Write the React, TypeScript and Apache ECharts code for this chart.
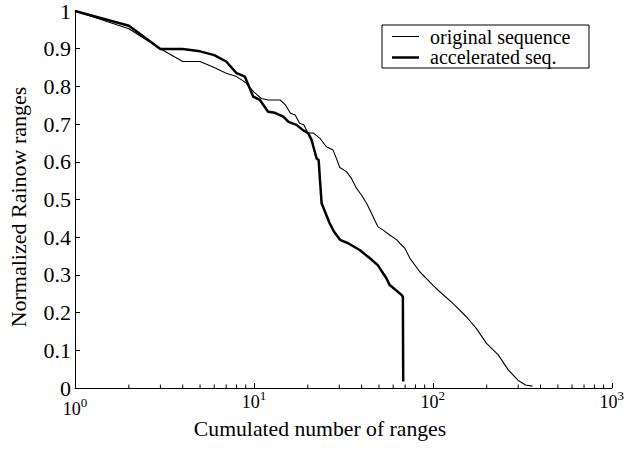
import React, { useEffect, useRef } from "react";
import * as echarts from "echarts";

const originalX = [1, 2, 3, 4, 5, 6, 7, 8, 9, 10, 11, 12, 14, 15, 16, 17, 18, 19, 20, 21.5, 23.4, 25.4, 27.7, 28.9, 30.2, 32.9, 35.1, 37.4, 39.9, 42.6, 44.5, 49.3, 53, 57.4, 62.9, 65.3, 69.7, 74.5, 84.3, 100, 109, 129, 154, 175, 199, 232, 264, 300, 330, 360];
const originalY = [1, 0.953, 0.9, 0.866, 0.866, 0.85, 0.835, 0.826, 0.81, 0.785, 0.768, 0.764, 0.764, 0.751, 0.729, 0.724, 0.702, 0.698, 0.677, 0.676, 0.662, 0.64, 0.631, 0.609, 0.585, 0.574, 0.556, 0.53, 0.512, 0.49, 0.472, 0.428, 0.418, 0.406, 0.393, 0.384, 0.371, 0.344, 0.309, 0.273, 0.256, 0.225, 0.189, 0.158, 0.119, 0.088, 0.048, 0.02, 0.008, 0.005];

const accelX = [1, 2, 3, 4, 5, 6, 7, 8, 8.9, 9.3, 9.9, 10.8, 12, 13.1, 14.6, 15.6, 17.3, 18.8, 20.1, 21, 21.5, 22.4, 23, 23.4, 23.9, 26.5, 28, 30.3, 33.6, 39, 44.5, 49.2, 55, 57.4, 62, 66.8, 68, 68.3];
const accelY = [1, 0.961, 0.899, 0.899, 0.893, 0.883, 0.866, 0.835, 0.826, 0.804, 0.773, 0.764, 0.733, 0.73, 0.72, 0.706, 0.698, 0.684, 0.676, 0.658, 0.64, 0.609, 0.605, 0.552, 0.49, 0.437, 0.415, 0.393, 0.384, 0.366, 0.344, 0.326, 0.291, 0.273, 0.26, 0.247, 0.242, 0.017];

const minorTicks = [2, 3, 4, 5, 6, 7, 8, 9, 20, 30, 40, 50, 60, 70, 80, 90, 200, 300, 400, 500, 600, 700, 800, 900];

const seriesNames = ["original sequence", "accelerated seq."];
const xTitle = "Cumulated number of ranges";
const yTitle = "Normalized Rainow ranges";

const FONT = "Liberation Serif";

export default function App() {
  const ref = useRef<HTMLDivElement>(null);
  useEffect(() => {
    if (!ref.current) return;
    const chart = echarts.init(ref.current, null, { renderer: "svg" });
    const zip = (xs: number[], ys: number[]) => xs.map((x, i) => [x, ys[i]]);
    chart.setOption({
      animation: false,
      backgroundColor: "#fff",
      textStyle: { fontFamily: FONT, color: "#000" },
      grid: { left: 75, right: 14, top: 11, bottom: 63 },
      legend: { show: false },
      graphic: [
        {
          type: "rect",
          shape: { x: 382, y: 25, width: 207, height: 43 },
          style: { fill: "#fff", stroke: "#000", lineWidth: 1 },
          z: 10,
        },
        {
          type: "line",
          shape: { x1: 392, y1: 36.5, x2: 419, y2: 36.5 },
          style: { stroke: "#000", lineWidth: 1 },
          z: 11,
        },
        {
          type: "line",
          shape: { x1: 392, y1: 57.5, x2: 419, y2: 57.5 },
          style: { stroke: "#000", lineWidth: 2.5 },
          z: 11,
        },
        {
          type: "text",
          x: 430,
          y: 36.5,
          style: { text: seriesNames[0], fontFamily: FONT, fontSize: 20, fill: "#000", verticalAlign: "middle", align: "left" },
          z: 11,
        },
        {
          type: "text",
          x: 430,
          y: 57,
          style: { text: seriesNames[1], fontFamily: FONT, fontSize: 20, fill: "#000", verticalAlign: "middle", align: "left" },
          z: 11,
        },
        {
          type: "text",
          x: 320,
          y: 429,
          style: { text: xTitle, fontFamily: FONT, fontSize: 21.7, fill: "#000", verticalAlign: "middle", align: "center" },
        },
        {
          type: "text",
          x: 18,
          y: 207,
          rotation: Math.PI / 2,
          style: { text: yTitle, fontFamily: FONT, fontSize: 22, fill: "#000", verticalAlign: "middle", align: "center" },
        },
      ],
      xAxis: {
        type: "log",
        logBase: 10,
        min: 1,
        max: 1000,
        axisLine: { lineStyle: { color: "#000", width: 1 } },
        axisTick: { inside: true, length: 5, lineStyle: { color: "#000" } },
        splitLine: { show: false },
        axisLabel: {
          margin: 5,
          color: "#000",
          formatter: (v: number) => {
            const e = Math.round(Math.log10(v));
            return e === 0 ? `{g| }\n{b|10}{s|${e}}` : `{b|10}{s|${e}}`;
          },
          rich: {
            g: { fontSize: 1, lineHeight: 7 },
            b: { fontFamily: FONT, fontSize: 18, color: "#000", lineHeight: 18, verticalAlign: "bottom" },
            s: { fontFamily: FONT, fontSize: 13, color: "#000", lineHeight: 13, verticalAlign: "bottom", padding: [0, 0, 9, 0] },
          },
        },
      },
      yAxis: {
        type: "value",
        min: 0,
        max: 1,
        interval: 0.1,
        axisLine: { show: true, lineStyle: { color: "#000", width: 1 } },
        axisTick: { show: true, inside: true, length: 5, lineStyle: { color: "#000" } },
        splitLine: { show: false },
        axisLabel: {
          margin: 4,
          fontFamily: FONT,
          fontSize: 22,
          color: "#000",
          formatter: (v: number) => String(Math.round(v * 10) / 10),
        },
      },
      series: [
        {
          name: seriesNames[0],
          type: "line",
          data: zip(originalX, originalY),
          symbol: "none",
          lineStyle: { color: "#000", width: 1.1 },
          itemStyle: { color: "#000" },
        },
        {
          name: seriesNames[1],
          type: "line",
          data: zip(accelX, accelY),
          symbol: "none",
          lineStyle: { color: "#000", width: 2.5 },
          itemStyle: { color: "#000" },
        },
        {
          name: "minorTicks",
          type: "custom",
          silent: true,
          clip: false,
          data: minorTicks.map((v) => [v, 0]),
          renderItem: (_params: any, api: any) => {
            const p = api.coord([api.value(0), 0]);
            return {
              type: "line",
              shape: { x1: p[0], y1: p[1], x2: p[0], y2: p[1] - 3.5 },
              style: { stroke: "#000", lineWidth: 1 },
            };
          },
        },
      ],
    });
    return () => chart.dispose();
  }, []);
  return <div ref={ref} style={{ width: 627, height: 451, position: "absolute", left: 0, top: 0 }} />;
}
